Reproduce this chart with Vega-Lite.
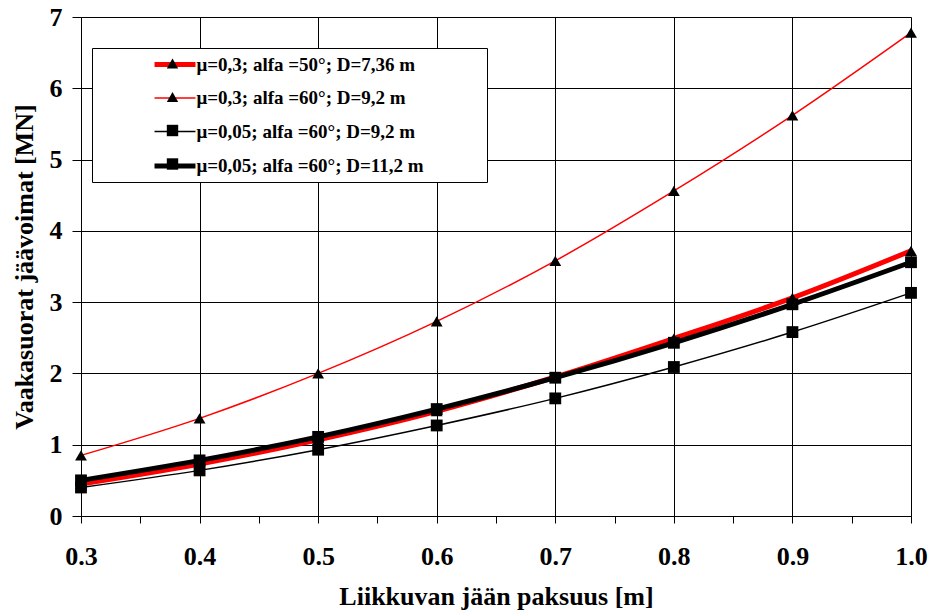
{
  "$schema": "https://vega.github.io/schema/vega-lite/v6.json",
  "width": 830,
  "height": 499,
  "autosize": "none",
  "padding": {"left": 81, "top": 17, "right": 21, "bottom": 95},
  "background": "white",
  "config": {
    "view": {"stroke": null},
    "font": "Liberation Serif",
    "axis": {
      "labelFont": "Liberation Serif",
      "titleFont": "Liberation Serif",
      "labelFontWeight": "bold",
      "titleFontWeight": "bold",
      "labelColor": "black",
      "titleColor": "black",
      "domainColor": "black",
      "tickColor": "black",
      "gridColor": "black",
      "gridOpacity": 1,
      "domainWidth": 1,
      "tickWidth": 1,
      "gridWidth": 1
    }
  },
  "data": {
    "values": [
      {"h": 0.3, "v": 0.45, "series": "μ=0,3; alfa =50°; D=7,36 m"},
      {"h": 0.4, "v": 0.73, "series": "μ=0,3; alfa =50°; D=7,36 m"},
      {"h": 0.5, "v": 1.07, "series": "μ=0,3; alfa =50°; D=7,36 m"},
      {"h": 0.6, "v": 1.47, "series": "μ=0,3; alfa =50°; D=7,36 m"},
      {"h": 0.7, "v": 1.95, "series": "μ=0,3; alfa =50°; D=7,36 m"},
      {"h": 0.8, "v": 2.49, "series": "μ=0,3; alfa =50°; D=7,36 m"},
      {"h": 0.9, "v": 3.06, "series": "μ=0,3; alfa =50°; D=7,36 m"},
      {"h": 1.0, "v": 3.72, "series": "μ=0,3; alfa =50°; D=7,36 m"},
      {"h": 0.3, "v": 0.85, "series": "μ=0,3; alfa =60°; D=9,2 m"},
      {"h": 0.4, "v": 1.37, "series": "μ=0,3; alfa =60°; D=9,2 m"},
      {"h": 0.5, "v": 2.0, "series": "μ=0,3; alfa =60°; D=9,2 m"},
      {"h": 0.6, "v": 2.73, "series": "μ=0,3; alfa =60°; D=9,2 m"},
      {"h": 0.7, "v": 3.58, "series": "μ=0,3; alfa =60°; D=9,2 m"},
      {"h": 0.8, "v": 4.56, "series": "μ=0,3; alfa =60°; D=9,2 m"},
      {"h": 0.9, "v": 5.62, "series": "μ=0,3; alfa =60°; D=9,2 m"},
      {"h": 1.0, "v": 6.78, "series": "μ=0,3; alfa =60°; D=9,2 m"},
      {"h": 0.3, "v": 0.40, "series": "μ=0,05; alfa =60°; D=9,2 m"},
      {"h": 0.4, "v": 0.64, "series": "μ=0,05; alfa =60°; D=9,2 m"},
      {"h": 0.5, "v": 0.93, "series": "μ=0,05; alfa =60°; D=9,2 m"},
      {"h": 0.6, "v": 1.27, "series": "μ=0,05; alfa =60°; D=9,2 m"},
      {"h": 0.7, "v": 1.65, "series": "μ=0,05; alfa =60°; D=9,2 m"},
      {"h": 0.8, "v": 2.09, "series": "μ=0,05; alfa =60°; D=9,2 m"},
      {"h": 0.9, "v": 2.58, "series": "μ=0,05; alfa =60°; D=9,2 m"},
      {"h": 1.0, "v": 3.13, "series": "μ=0,05; alfa =60°; D=9,2 m"},
      {"h": 0.3, "v": 0.50, "series": "μ=0,05; alfa =60°; D=11,2 m"},
      {"h": 0.4, "v": 0.78, "series": "μ=0,05; alfa =60°; D=11,2 m"},
      {"h": 0.5, "v": 1.11, "series": "μ=0,05; alfa =60°; D=11,2 m"},
      {"h": 0.6, "v": 1.50, "series": "μ=0,05; alfa =60°; D=11,2 m"},
      {"h": 0.7, "v": 1.94, "series": "μ=0,05; alfa =60°; D=11,2 m"},
      {"h": 0.8, "v": 2.43, "series": "μ=0,05; alfa =60°; D=11,2 m"},
      {"h": 0.9, "v": 2.97, "series": "μ=0,05; alfa =60°; D=11,2 m"},
      {"h": 1.0, "v": 3.56, "series": "μ=0,05; alfa =60°; D=11,2 m"}
    ]
  },
  "encoding": {
    "x": {
      "field": "h",
      "type": "quantitative",
      "scale": {"domain": [0.3, 1.0], "nice": false, "zero": false},
      "axis": {
        "title": "Liikkuvan jään paksuus [m]",
        "values": [0.3, 0.35, 0.4, 0.45, 0.5, 0.55, 0.6, 0.65, 0.7, 0.75, 0.8, 0.85, 0.9, 0.95, 1.0],
        "labelExpr": "round(datum.value * 100) % 10 == 0 ? format(datum.value, '.1f') : ''",
        "gridOpacity": {"condition": {"test": "round(datum.value * 100) % 10 == 0", "value": 1}, "value": 0},
        "labelFontSize": 26,
        "titleFontSize": 26,
        "tickSize": 7,
        "labelPadding": 20,
        "titlePadding": 14,
        "labelFlush": false,
        "labelOverlap": false
      }
    },
    "y": {
      "field": "v",
      "type": "quantitative",
      "scale": {"domain": [0, 7], "nice": false},
      "axis": {
        "title": "Vaakasuorat jäävoimat [MN]",
        "values": [0, 1, 2, 3, 4, 5, 6, 7],
        "labelFontSize": 26,
        "titleFontSize": 26,
        "tickSize": 9,
        "labelPadding": 10,
        "titlePadding": 12
      }
    }
  },
  "layer": [
    {
      "mark": {"type": "line", "interpolate": "monotone"},
      "encoding": {
        "color": {
          "field": "series",
          "type": "nominal",
          "scale": {
            "domain": ["μ=0,3; alfa =50°; D=7,36 m", "μ=0,3; alfa =60°; D=9,2 m", "μ=0,05; alfa =60°; D=9,2 m", "μ=0,05; alfa =60°; D=11,2 m"],
            "range": ["#ff0000", "#ff0000", "#000000", "#000000"]
          },
          "legend": {
            "title": null,
            "orient": "none",
            "legendX": 11,
            "legendY": 31,
            "symbolType": "M-2.56,0H2.56M36.9,0",
            "symbolSize": 256,
            "symbolOffset": 66.5,
            "labelFont": "Liberation Serif",
            "labelFontSize": 19,
            "labelFontWeight": "bold",
            "labelColor": "black",
            "labelOffset": 11,
            "labelLimit": 600,
            "padding": 6,
            "fillColor": "white",
            "strokeColor": "black",
            "rowPadding": 13.5
          }
        },
        "strokeWidth": {
          "field": "series",
          "type": "nominal",
          "scale": {
            "type": "ordinal",
            "domain": ["μ=0,3; alfa =50°; D=7,36 m", "μ=0,3; alfa =60°; D=9,2 m", "μ=0,05; alfa =60°; D=9,2 m", "μ=0,05; alfa =60°; D=11,2 m"],
            "range": [5, 1.5, 1.5, 5]
          }
        }
      }
    },
    {
      "mark": {"type": "point", "filled": true, "opacity": 1, "color": "black", "size": 140},
      "encoding": {
        "shape": {
          "field": "series",
          "type": "nominal",
          "sort": ["μ=0,3; alfa =50°; D=7,36 m", "μ=0,3; alfa =60°; D=9,2 m", "μ=0,05; alfa =60°; D=9,2 m", "μ=0,05; alfa =60°; D=11,2 m"],
          "scale": {"range": ["triangle-up", "triangle-up", "square", "square"]},
          "legend": {
            "title": null,
            "orient": "none",
            "legendX": 76,
            "legendY": 31,
            "symbolSize": 130,
            "symbolFillColor": "black",
            "symbolStrokeColor": "black",
            "labelFontSize": 19,
            "labelOpacity": 0,
            "labelLimit": 20,
            "padding": 6,
            "rowPadding": 13.5
          }
        }
      }
    }
  ]
}
